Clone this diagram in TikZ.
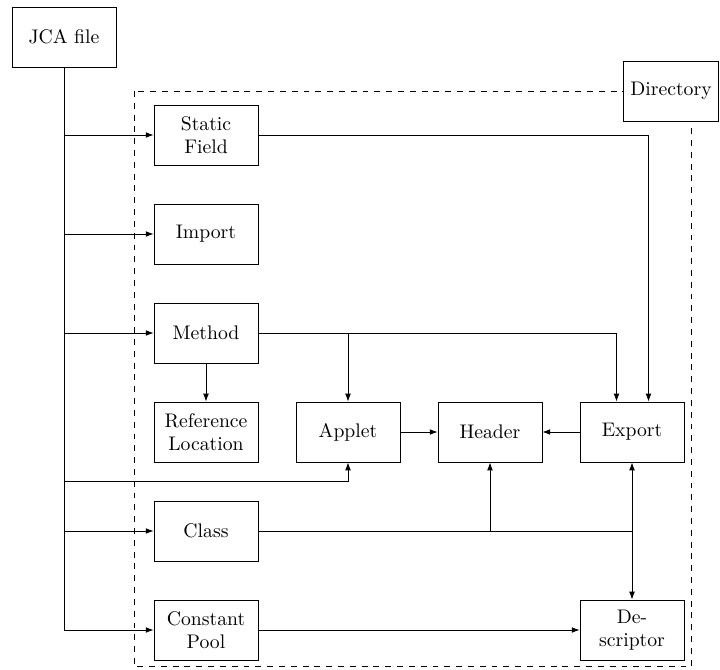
\documentclass[tikz,border=0pt]{standalone}
\usetikzlibrary{calc,arrows.meta}
\begin{document}
\begin{tikzpicture}[x=0.508pt,y=-0.508pt,
  box/.style={draw,align=center,minimum width=52.8pt,minimum height=30.5pt,inner sep=2pt},
  arr/.style={-{Latex[length=4pt,width=2.9pt]}},
  dirbox/.style={draw,fill=white,minimum height=30.5pt}]
\useasboundingbox (0,0) rectangle (720,669);
\node[box] (jca) at (64,37) {JCA file};
\draw[dashed] (134,91) rectangle (691.5,666.5);
\node[dirbox] (dir) at (671,91) {Directory};
\node[box] (static) at (206,135) {Static\\Field};
\node[box] (import) at (206,234) {Import};
\node[box] (method) at (206,333) {Method};
\node[box] (refloc) at (206,432) {Reference\\Location};
\node[box] (applet) at (348,432) {Applet};
\node[box] (header) at (490,432) {Header};
\node[box] (export) at (632,432) {Export};
\node[box] (class) at (206,531) {Class};
\node[box] (cpool) at (206,630) {Constant\\Pool};
\node[box] (desc) at (632,630) {De-\\scriptor};
\coordinate (aj) at (348,481.5);
% from JCA file
\draw[arr] (jca.south) |- (static.west);
\draw[arr] (jca.south) |- (import.west);
\draw[arr] (jca.south) |- (method.west);
\draw[arr] (jca.south) |- (aj) -- (applet.south);
\draw[arr] (jca.south) |- (class.west);
\draw[arr] (jca.south) |- (cpool.west);
% others
\draw[arr] (static.east) -| ($(export.north)+(16.5,0)$);
\draw[arr] (method.east) -| (applet.north);
\draw[arr] (method.east) -| ($(export.north)+(-15.5,0)$);
\draw[arr] (method) -- (refloc);
\draw[arr] (applet) -- (header);
\draw[arr] (export) -- (header);
\draw[arr] (class.east) -| (header.south);
\draw[arr] (class.east) -| (export.south);
\draw[arr] (class.east) -| (desc.north);
\draw[arr] (cpool) -- (desc);
\end{tikzpicture}
\end{document}
